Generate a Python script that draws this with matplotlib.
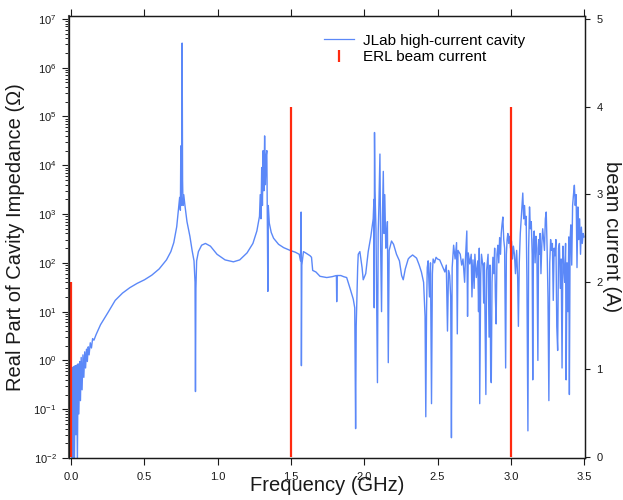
import matplotlib
matplotlib.use('Agg')

import matplotlib.pyplot as plt
from matplotlib.lines import Line2D
from matplotlib.ticker import LogLocator, NullFormatter

plt.rcParams['font.family'] = ['Liberation Sans', 'DejaVu Sans']
plt.rcParams['mathtext.fontset'] = 'custom'
plt.rcParams['mathtext.rm'] = 'Liberation Sans'

# Colors
COLOR_CAVITY = '#5b88f8'
COLOR_BEAM = '#ff2a10'
COLOR_TEXT = '#1a1a1a'

# Real part of cavity impedance (ohm)
freq_ghz = [
    0.003, 0.008, 0.012, 0.017, 0.022, 0.027, 0.032, 0.037, 0.042, 0.047,
    0.052, 0.058, 0.063, 0.068, 0.074, 0.080, 0.086, 0.092, 0.098, 0.104,
    0.110, 0.116, 0.122, 0.130, 0.138, 0.146, 0.155, 0.17, 0.2, 0.25,
    0.3, 0.35, 0.4, 0.45, 0.5, 0.55, 0.6, 0.65, 0.68, 0.70,
    0.72, 0.73, 0.735, 0.74, 0.745, 0.748, 0.750, 0.753, 0.757, 0.760,
    0.763, 0.768, 0.775, 0.79, 0.81, 0.825, 0.838, 0.845, 0.848, 0.851,
    0.856, 0.868, 0.89, 0.916, 0.95, 0.995, 1.05, 1.107, 1.15, 1.2,
    1.24, 1.267, 1.285, 1.29, 1.295, 1.30, 1.305, 1.31, 1.315, 1.32,
    1.325, 1.33, 1.335, 1.342, 1.345, 1.352, 1.365, 1.381, 1.415, 1.45,
    1.494, 1.53, 1.556, 1.565, 1.569, 1.571, 1.574, 1.585, 1.6, 1.63,
    1.64, 1.648, 1.67, 1.698, 1.744, 1.78, 1.81, 1.812, 1.815, 1.84,
    1.86, 1.88, 1.903, 1.925, 1.935, 1.941, 1.945, 1.955, 1.959, 1.97,
    1.985, 1.993, 2.01, 2.027, 2.045, 2.061, 2.066, 2.068, 2.07, 2.073,
    2.08, 2.085, 2.09, 2.095, 2.1, 2.107, 2.112, 2.118, 2.124, 2.13,
    2.135, 2.14, 2.147, 2.152, 2.158, 2.164, 2.17, 2.186, 2.2, 2.22,
    2.24, 2.255, 2.266, 2.28, 2.3, 2.31, 2.33, 2.357, 2.375, 2.39,
    2.405, 2.415, 2.42, 2.425, 2.43, 2.436, 2.445, 2.452, 2.459, 2.465,
    2.47, 2.48, 2.49, 2.5, 2.515, 2.53, 2.55, 2.56, 2.568, 2.575,
    2.583, 2.59, 2.595, 2.6, 2.61, 2.62, 2.63, 2.635, 2.64, 2.655,
    2.665, 2.674, 2.685, 2.69, 2.7, 2.705, 2.71, 2.72, 2.73, 2.735,
    2.742, 2.75, 2.755, 2.765, 2.775, 2.78, 2.785, 2.788, 2.795, 2.8,
    2.81, 2.815, 2.82, 2.825, 2.83, 2.835, 2.845, 2.852, 2.858, 2.863,
    2.867, 2.872, 2.878, 2.884, 2.89, 2.895, 2.9, 2.906, 2.912, 2.918,
    2.924, 2.93, 2.935, 2.94, 2.946, 2.952, 2.958, 2.962, 2.965, 2.97,
    2.975, 2.98, 2.986, 2.992, 2.998, 3.005, 3.012, 3.018, 3.025, 3.032,
    3.04, 3.047, 3.052, 3.058, 3.065, 3.072, 3.078, 3.082, 3.088, 3.094,
    3.1, 3.105, 3.11, 3.117, 3.122, 3.128, 3.134, 3.14, 3.146, 3.15,
    3.155, 3.16, 3.166, 3.172, 3.178, 3.182, 3.185, 3.19, 3.196, 3.2,
    3.206, 3.212, 3.218, 3.224, 3.23, 3.236, 3.242, 3.248, 3.254, 3.26,
    3.266, 3.272, 3.278, 3.284, 3.29, 3.296, 3.302, 3.308, 3.314, 3.32,
    3.326, 3.332, 3.338, 3.344, 3.35, 3.356, 3.362, 3.368, 3.374, 3.378,
    3.384, 3.39, 3.396, 3.4, 3.405, 3.41, 3.416, 3.422, 3.428, 3.434,
    3.44, 3.446, 3.452, 3.458, 3.464, 3.47, 3.476, 3.482, 3.488, 3.494,
    3.5,
]
impedance_ohm = [
    0.006, 0.72, 0.006, 0.75, 0.008, 0.78, 0.03, 0.8, 0.008, 0.85,
    0.08, 0.95, 0.15, 1.15, 0.25, 1.3, 0.45, 1.5, 0.7, 1.7,
    0.95, 1.9, 1.3, 2.3, 1.8, 2.8, 2.6, 3.4, 5.4, 9.5,
    17, 24, 31, 38, 45, 56, 75, 115, 170, 260,
    550, 1100, 1600, 2200, 1200, 25000, 1500, 4000, 3.2e6, 5000,
    1500, 2500, 1600, 700, 350, 180, 110, 40, 0.23, 30,
    110, 170, 230, 250, 220, 150, 115, 105, 115, 160,
    250, 450, 900, 2500, 800, 9000, 1500, 20000, 3000, 40000,
    4000, 15000, 20000, 26, 1500, 650, 420, 320, 240, 205,
    180, 165, 150, 110, 1100, 0.78, 90, 170, 160, 140,
    130, 70, 65, 53, 50, 52, 55, 16, 55, 55,
    52, 50, 30, 18, 12, 0.04, 5, 80, 150, 170,
    80, 45, 60, 170, 350, 800, 2000, 12, 47000, 3000,
    500, 12, 0.35, 400, 1500, 17000, 200, 10, 900, 7500,
    400, 2500, 200, 300, 700, 0.9, 180, 280, 240, 150,
    110, 55, 45, 75, 120, 130, 145, 125, 90, 65,
    40, 8, 0.07, 10, 80, 110, 20, 100, 0.13, 60,
    120, 100, 130, 120, 115, 90, 65, 90, 4, 70,
    55, 20, 0.026, 80, 230, 120, 260, 3.5, 180, 150,
    90, 120, 40, 110, 450, 8, 160, 95, 150, 20,
    115, 30, 150, 50, 110, 10, 200, 0.13, 60, 150,
    85, 15, 100, 5, 0.2, 70, 150, 3, 90, 0.5,
    0.35, 40, 130, 60, 200, 20, 5.6, 150, 230, 100,
    330, 150, 400, 600, 870, 300, 200, 10, 0.7, 150,
    300, 400, 250, 350, 200, 280, 120, 220, 150, 60,
    180, 50, 5, 100, 400, 900, 1800, 2700, 800, 1500,
    600, 900, 50, 0.036, 200, 1400, 500, 700, 150, 0.4,
    300, 450, 100, 350, 200, 10, 1, 300, 150, 400,
    60, 250, 500, 300, 180, 800, 1100, 200, 20, 0.15,
    100, 300, 180, 250, 17, 200, 140, 300, 5, 1.6,
    200, 250, 30, 120, 0.7, 220, 80, 40, 250, 0.4,
    100, 10, 340, 0.2, 300, 600, 90, 1500, 2500, 3900,
    1500, 2500, 80, 1400, 300, 800, 150, 540, 250, 400,
    340,
]

# ERL beam current lines (A)
beam_freq_ghz = [0.0, 1.5, 3.0]
beam_current_a = [2.0, 4.0, 4.0]

x_ticks = [0.0, 0.5, 1.0, 1.5, 2.0, 2.5, 3.0, 3.5]
x_tick_labels = ['0.0', '0.5', '1.0', '1.5', '2.0', '2.5', '3.0', '3.5']
beam_ticks = [0, 1, 2, 3, 4, 5]


def main():
    fig = plt.figure(figsize=(6.23, 5.0), dpi=100)
    ax = fig.add_axes([0.1108, 0.084, 0.829, 0.884])

    ax.semilogy(freq_ghz, impedance_ohm, color=COLOR_CAVITY, lw=1.0)
    ax.set_xlim(-0.015, 3.51)
    ax.set_ylim(1e-2, 10 ** 7.06)

    ax.set_xticks(x_ticks)
    ax.set_xticklabels(x_tick_labels)
    ax.yaxis.set_major_locator(LogLocator(base=10, numticks=20))
    ax.yaxis.set_minor_locator(LogLocator(base=10, subs=range(2, 10), numticks=20))
    ax.yaxis.set_minor_formatter(NullFormatter())

    ax.tick_params(axis='x', which='major', direction='out', length=5,
                   width=0.8, top=True, labeltop=False, labelsize=8,
                   pad=5, colors=COLOR_TEXT)
    ax.tick_params(axis='y', which='major', direction='out', length=5,
                   width=0.8, labelsize=8, pad=4, colors=COLOR_TEXT)
    ax.tick_params(axis='y', which='minor', direction='out', length=2.8,
                   width=0.6)

    ax2 = ax.twinx()
    ax2.vlines(beam_freq_ghz, 0, beam_current_a, color=COLOR_BEAM, lw=1.6)
    ax2.set_ylim(-0.011, 5.034)
    ax2.set_yticks(beam_ticks)
    ax2.tick_params(axis='y', direction='out', length=3.8, width=0.8,
                    labelsize=8, pad=4, colors=COLOR_TEXT)

    for a in (ax, ax2):
        for side in a.spines.values():
            side.set_linewidth(0.9)
            side.set_color(COLOR_TEXT)
    ax.spines['left'].set_linewidth(1.5)
    ax.spines['left'].set_color('#555555')

    ax.set_xlabel('Frequency (GHz)', fontsize=14.5, labelpad=-4,
                  color=COLOR_TEXT)
    ax.set_ylabel('Real Part of Cavity Impedance (\u03a9)', fontsize=14.5,
                  labelpad=6, color=COLOR_TEXT)
    ax2.set_ylabel('beam current (A)', fontsize=14.5, rotation=270,
                   labelpad=13, color=COLOR_TEXT)

    handles = [
        Line2D([], [], color=COLOR_CAVITY, lw=0.9),
        Line2D([], [], color=COLOR_BEAM, ls='none', marker='|',
               markersize=8, markeredgewidth=1.6),
    ]
    fig.legend(handles, ['JLab high-current cavity', 'ERL beam current'],
               loc='upper left', bbox_to_anchor=(0.51, 0.945),
               frameon=False, fontsize=11, handlelength=2.0,
               handletextpad=0.55, labelspacing=0.15, borderaxespad=0)

    fig.savefig('out.png', dpi=100)
    plt.close(fig)


if __name__ == '__main__':
    main()
